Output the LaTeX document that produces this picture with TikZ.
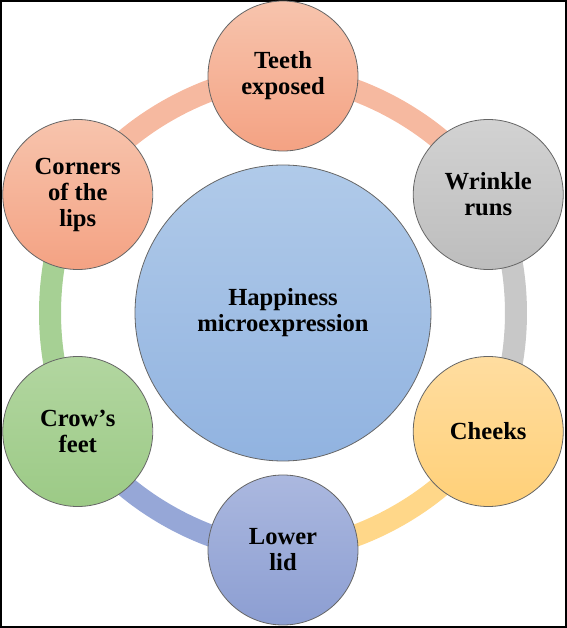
\documentclass[tikz,border=0pt]{standalone}
\usepackage{fontspec}
\setmainfont{Liberation Serif}
\usepackage{xcolor}
\usetikzlibrary{backgrounds}

\definecolor{salmonTop}{HTML}{F7C4AD}
\definecolor{salmonBot}{HTML}{F4A283}
\definecolor{salmonRing}{HTML}{F6B9A0}
\definecolor{greyTop}{HTML}{D2D2D2}
\definecolor{greyBot}{HTML}{BDBDBD}
\definecolor{greyRing}{HTML}{C8C8C8}
\definecolor{sunTop}{HTML}{FFDDA0}
\definecolor{sunBot}{HTML}{FFD078}
\definecolor{sunRing}{HTML}{FFD789}
\definecolor{lidTop}{HTML}{ABB8DF}
\definecolor{lidBot}{HTML}{8C9ED2}
\definecolor{lidRing}{HTML}{96A7D7}
\definecolor{leafTop}{HTML}{B2D6A0}
\definecolor{leafBot}{HTML}{9CCA86}
\definecolor{leafRing}{HTML}{A6D094}
\definecolor{skyTop}{HTML}{B0CAE9}
\definecolor{skyBot}{HTML}{91B3E0}

\begin{document}
\begin{tikzpicture}[x=0.5pt,y=0.5pt,
  bubble/.style={circle, draw=black!60, line width=0.4pt, minimum size=75pt,
    inner sep=0pt, align=center, font=\bfseries\fontsize{12.3}{13}\selectfont},
  ring/.style={line width=11pt, bend left=30, looseness=0.8}]
\useasboundingbox (0,0) rectangle (567,628);
\draw[line width=1pt] (1,1) rectangle (566,627);
\coordinate (hub) at (283,315);

\node[bubble, minimum size=148pt, top color=skyTop, bottom color=skyBot] (happy) at (hub) {Happiness\\microexpression};
\node[bubble, top color=salmonTop, bottom color=salmonBot] (teeth) at ([shift={(90:237)}]hub) {Teeth\\exposed};
\node[bubble, top color=greyTop, bottom color=greyBot] (wrinkle) at ([shift={(30:237)}]hub) {Wrinkle\\runs};
\node[bubble, top color=sunTop, bottom color=sunBot] (cheeks) at ([shift={(-30:237)}]hub) {Cheeks};
\node[bubble, top color=lidTop, bottom color=lidBot] (lowerlid) at ([shift={(-90:237)}]hub) {Lower\\lid};
\node[bubble, top color=leafTop, bottom color=leafBot] (crows) at ([shift={(210:237)}]hub) {Crow’s\\feet};
\node[bubble, top color=salmonTop, bottom color=salmonBot] (corners) at ([shift={(150:237)}]hub) {Corners\\of the\\lips};

\begin{scope}[on background layer]
\draw[ring, salmonRing] (corners.center) to (teeth.center);
\draw[ring, salmonRing] (teeth.center) to (wrinkle.center);
\draw[ring, greyRing] (wrinkle.center) to (cheeks.center);
\draw[ring, sunRing] (cheeks.center) to (lowerlid.center);
\draw[ring, lidRing] (lowerlid.center) to (crows.center);
\draw[ring, leafRing] (crows.center) to (corners.center);
\end{scope}
\end{tikzpicture}
\end{document}
